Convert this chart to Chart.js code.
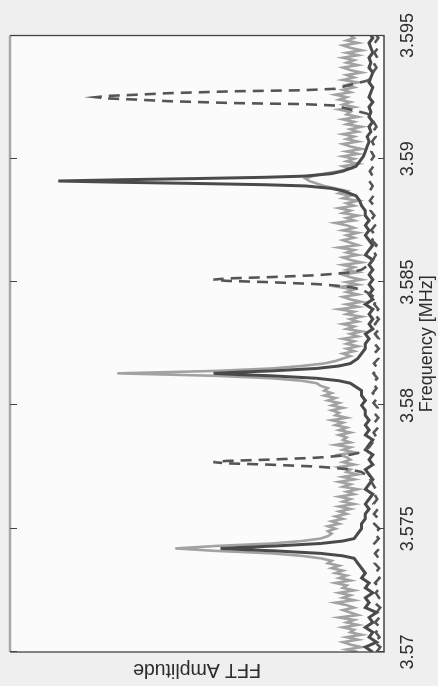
<!DOCTYPE html>
<html><head><meta charset="utf-8">
<script src="https://cdn.jsdelivr.net/npm/chart.js@4.4.1/dist/chart.umd.min.js"></script>
<style>
html,body{margin:0;padding:0;background:#efefef;width:438px;height:686px;overflow:hidden;}
#wrap{position:absolute;left:0;top:0;width:686px;height:438px;transform-origin:0 0;transform:translateY(686px) rotate(-90deg);}
canvas{display:block;}
</style></head><body>
<div id="wrap"><canvas id="c" width="686" height="438"></canvas></div>
<script>
// Frequency axis ticks
const freqTicks = [3.570, 3.575, 3.580, 3.585, 3.590, 3.595];
const freqTickLabels = ['3.57', '3.575', '3.58', '3.585', '3.59', '3.595'];

// Gray (noisy) series
const grayFreq = [
3.5700,3.5701,3.5702,3.5703,3.5704,3.5705,3.5706,3.5707,3.5708,3.5709,
3.5710,3.5711,3.5712,3.5713,3.5714,3.5715,3.5716,3.5717,3.5718,3.5719,
3.5720,3.5721,3.5722,3.5723,3.5724,3.5725,3.5726,3.5727,3.5728,3.5729,
3.5730,3.5731,3.5732,3.5733,3.5734,3.5735,3.5736,3.5737,3.5738,3.5739,
3.5740,3.5741,3.5742,3.5743,3.5744,3.5745,3.5746,3.5747,3.5748,3.5749,
3.5750,3.5751,3.5752,3.5753,3.5754,3.5755,3.5756,3.5757,3.5758,3.5759,
3.5760,3.5761,3.5762,3.5763,3.5764,3.5765,3.5766,3.5767,3.5768,3.5769,
3.5770,3.5771,3.5772,3.5773,3.5774,3.5775,3.5776,3.5777,3.5778,3.5779,
3.5780,3.5781,3.5782,3.5783,3.5784,3.5785,3.5786,3.5787,3.5788,3.5789,
3.5790,3.5791,3.5792,3.5793,3.5794,3.5795,3.5796,3.5797,3.5798,3.5799,
3.5800,3.5801,3.5802,3.5803,3.5804,3.5805,3.5806,3.5807,3.5808,3.5809,
3.5810,3.5811,3.5812,3.5813,3.5814,3.5815,3.5816,3.5817,3.5818,3.5819,
3.5820,3.5821,3.5822,3.5823,3.5824,3.5825,3.5826,3.5827,3.5828,3.5829,
3.5830,3.5831,3.5832,3.5833,3.5834,3.5835,3.5836,3.5837,3.5838,3.5839,
3.5840,3.5841,3.5842,3.5843,3.5844,3.5845,3.5846,3.5847,3.5848,3.5849,
3.5850,3.5851,3.5852,3.5853,3.5854,3.5855,3.5856,3.5857,3.5858,3.5859,
3.5860,3.5861,3.5862,3.5863,3.5864,3.5865,3.5866,3.5867,3.5868,3.5869,
3.5870,3.5871,3.5872,3.5873,3.5874,3.5875,3.5876,3.5877,3.5878,3.5879,
3.5880,3.5881,3.5882,3.5883,3.5884,3.5885,3.5886,3.5887,3.5888,3.5889,
3.5890,3.5891,3.5892,3.5893,3.5894,3.5895,3.5896,3.5897,3.5898,3.5899,
3.5900,3.5901,3.5902,3.5903,3.5904,3.5905,3.5906,3.5907,3.5908,3.5909,
3.5910,3.5911,3.5912,3.5913,3.5914,3.5915,3.5916,3.5917,3.5918,3.5919,
3.5920,3.5921,3.5922,3.5923,3.5924,3.5925,3.5926,3.5927,3.5928,3.5929,
3.5930,3.5931,3.5932,3.5933,3.5934,3.5935,3.5936,3.5937,3.5938,3.5939,
3.5940,3.5941,3.5942,3.5943,3.5944,3.5945,3.5946,3.5947,3.5948,3.5949,3.5950];
const grayAmp = [
0.07,0.10,0.06,0.09,0.11,0.07,0.10,0.06,0.09,0.08,
0.11,0.07,0.10,0.08,0.12,0.07,0.09,0.11,0.08,0.10,
0.13,0.08,0.11,0.09,0.12,0.08,0.11,0.10,0.13,0.09,
0.12,0.10,0.13,0.11,0.14,0.12,0.15,0.14,0.17,0.22,
0.30,0.45,0.558,0.45,0.30,0.22,0.17,0.15,0.14,0.15,
0.13,0.15,0.12,0.14,0.11,0.13,0.10,0.12,0.09,0.12,
0.08,0.11,0.09,0.12,0.08,0.10,0.07,0.11,0.09,0.12,
0.08,0.11,0.07,0.10,0.09,0.12,0.08,0.11,0.09,0.10,
0.12,0.08,0.11,0.09,0.13,0.09,0.11,0.10,0.12,0.09,
0.12,0.10,0.13,0.11,0.14,0.10,0.13,0.12,0.14,0.11,
0.14,0.12,0.15,0.13,0.16,0.14,0.16,0.15,0.17,0.18,
0.22,0.30,0.45,0.713,0.45,0.30,0.22,0.16,0.13,0.11,
0.09,0.11,0.08,0.10,0.07,0.10,0.08,0.11,0.07,0.09,
0.06,0.10,0.08,0.11,0.07,0.09,0.06,0.10,0.08,0.12,
0.07,0.10,0.06,0.09,0.11,0.07,0.10,0.08,0.12,0.07,
0.10,0.06,0.09,0.11,0.07,0.10,0.08,0.11,0.06,0.09,
0.11,0.07,0.10,0.08,0.12,0.07,0.09,0.11,0.08,0.10,
0.07,0.11,0.08,0.10,0.13,0.08,0.10,0.07,0.11,0.09,
0.12,0.08,0.10,0.07,0.11,0.09,0.12,0.10,0.13,0.16,
0.18,0.20,0.21,0.19,0.16,0.12,0.09,0.11,0.07,0.10,
0.08,0.11,0.07,0.10,0.06,0.09,0.11,0.07,0.10,0.08,
0.11,0.07,0.09,0.06,0.10,0.08,0.11,0.07,0.10,0.09,
0.12,0.08,0.11,0.09,0.12,0.10,0.13,0.09,0.11,0.08,
0.10,0.07,0.11,0.08,0.10,0.06,0.09,0.11,0.07,0.10,
0.08,0.11,0.07,0.10,0.06,0.09,0.11,0.07,0.10,0.08,0.09];

// Dark solid series
const darkFreq = [
3.5700,3.5702,3.5704,3.5706,3.5708,3.5710,3.5712,3.5714,3.5716,3.5718,
3.5720,3.5722,3.5724,3.5726,3.5728,3.5730,3.5732,3.5734,3.5736,3.5738,
3.5739,3.5740,3.5741,3.57415,3.5742,3.57425,3.5743,3.5744,3.5745,3.5746,
3.5748,3.5750,3.5752,3.5754,3.5756,3.5758,3.5760,3.5762,3.5764,3.5766,
3.5768,3.5770,3.5772,3.5774,3.5776,3.5778,3.5780,3.5782,3.5784,3.5786,
3.5788,3.5790,3.5792,3.5794,3.5796,3.5798,3.5800,3.5802,3.5804,3.5806,
3.5807,3.5809,3.5810,3.5811,3.5812,3.58125,3.5813,3.58135,3.5814,3.5815,
3.5816,3.5817,3.5819,3.5821,3.5823,3.5825,3.5827,3.5829,3.5831,3.5833,
3.5835,3.5837,3.5839,3.5841,3.5843,3.5845,3.5847,3.5849,3.5851,3.5853,
3.5855,3.5857,3.5859,3.5861,3.5863,3.5865,3.5867,3.5869,3.5871,3.5873,
3.5875,3.5877,3.5879,3.5881,3.5883,3.5885,3.5887,3.5888,3.5889,3.58895,
3.5890,3.58905,3.5891,3.58915,3.5892,3.58925,3.5893,3.5894,3.5895,3.5897,
3.5899,3.5901,3.5903,3.5905,3.5907,3.5909,3.5911,3.5913,3.5915,3.5917,
3.5919,3.5921,3.5923,3.5925,3.5927,3.5929,3.5931,3.5933,3.5935,3.5937,
3.5939,3.5941,3.5943,3.5945,3.5947,3.5949,3.5950];
const darkAmp = [
0.030,0.050,0.020,0.040,0.030,0.050,0.030,0.040,0.020,0.050,
0.040,0.050,0.030,0.050,0.040,0.060,0.050,0.060,0.070,0.080,
0.110,0.170,0.290,0.370,0.437,0.370,0.290,0.170,0.110,0.080,
0.070,0.060,0.060,0.050,0.050,0.040,0.050,0.040,0.030,0.050,
0.040,0.030,0.040,0.050,0.030,0.040,0.030,0.050,0.040,0.030,
0.050,0.040,0.050,0.040,0.050,0.050,0.060,0.050,0.060,0.060,
0.070,0.090,0.120,0.180,0.300,0.390,0.456,0.390,0.300,0.180,
0.120,0.090,0.070,0.060,0.050,0.050,0.040,0.050,0.030,0.040,
0.030,0.040,0.030,0.050,0.030,0.040,0.030,0.040,0.030,0.040,
0.030,0.040,0.030,0.050,0.040,0.030,0.040,0.050,0.040,0.050,
0.040,0.050,0.050,0.060,0.065,0.075,0.110,0.140,0.210,0.320,
0.500,0.710,0.871,0.710,0.500,0.320,0.210,0.140,0.110,0.075,
0.065,0.055,0.050,0.045,0.040,0.045,0.035,0.040,0.030,0.040,
0.035,0.040,0.030,0.040,0.035,0.030,0.040,0.035,0.030,0.040,
0.035,0.040,0.030,0.035,0.040,0.030,0.035];

// Dashed series
const dashFreq = [
3.5700,3.5702,3.5704,3.5706,3.5708,3.5710,3.5712,3.5714,3.5716,3.5718,
3.5720,3.5722,3.5724,3.5726,3.5728,3.5730,3.5732,3.5734,3.5736,3.5738,
3.5740,3.5742,3.5744,3.5746,3.5748,3.5750,3.5752,3.5754,3.5756,3.5758,
3.5760,3.5762,3.5764,3.5766,3.5768,3.5771,3.5773,3.5774,3.57746,3.57752,
3.5776,3.57765,3.5777,3.57775,3.5778,3.57788,3.57794,3.5780,3.5781,3.5783,
3.5785,3.5787,3.5789,3.5791,3.5793,3.5795,3.5797,3.5799,3.5801,3.5803,
3.5805,3.5807,3.5809,3.5811,3.5813,3.5815,3.5817,3.5819,3.5821,3.5823,
3.5825,3.5827,3.5829,3.5831,3.5833,3.5835,3.5837,3.5839,3.5841,3.5843,
3.5845,3.5847,3.5848,3.58486,3.58492,3.5850,3.58505,3.5851,3.58515,3.5852,
3.58528,3.58534,3.5854,3.5855,3.5857,3.5859,3.5861,3.5863,3.5865,3.5867,
3.5869,3.5871,3.5873,3.5875,3.5877,3.5879,3.5881,3.5883,3.5885,3.5887,
3.5889,3.5891,3.5893,3.5895,3.5897,3.5899,3.5901,3.5903,3.5905,3.5907,
3.5909,3.5911,3.5913,3.5915,3.5918,3.59185,3.5920,3.59216,3.59222,3.59226,
3.59234,3.5924,3.59245,3.5925,3.59255,3.5926,3.59266,3.59274,3.59278,3.59284,
3.5930,3.59315,3.5932,3.5935,3.5937,3.5939,3.5941,3.5943,3.5945,3.5947,
3.5949,3.5950];
const dashAmp = [
0.020,0.010,0.025,0.012,0.022,0.010,0.024,0.012,0.020,0.010,
0.025,0.013,0.022,0.011,0.024,0.012,0.023,0.013,0.025,0.014,
0.024,0.012,0.026,0.014,0.025,0.013,0.026,0.015,0.027,0.016,
0.028,0.018,0.026,0.022,0.030,0.040,0.060,0.090,0.130,0.180,
0.310,0.420,0.456,0.420,0.310,0.180,0.130,0.090,0.060,0.040,
0.030,0.020,0.028,0.016,0.026,0.015,0.027,0.017,0.028,0.018,
0.030,0.020,0.030,0.018,0.028,0.017,0.027,0.015,0.026,0.014,
0.025,0.014,0.024,0.013,0.024,0.014,0.025,0.015,0.026,0.020,
0.035,0.060,0.090,0.130,0.180,0.310,0.420,0.456,0.420,0.310,
0.180,0.130,0.090,0.060,0.040,0.030,0.022,0.030,0.020,0.032,
0.022,0.034,0.024,0.035,0.026,0.036,0.027,0.038,0.028,0.038,
0.030,0.040,0.030,0.038,0.028,0.036,0.027,0.034,0.025,0.032,
0.022,0.030,0.020,0.028,0.040,0.050,0.090,0.130,0.220,0.400,
0.580,0.660,0.740,0.770,0.740,0.660,0.580,0.400,0.220,0.130,
0.090,0.050,0.040,0.030,0.020,0.028,0.018,0.026,0.016,0.025,
0.015,0.020];

const toXY = (xs, ys) => xs.map((x, i) => ({ x: x, y: ys[i] }));
const FONT = "'Liberation Sans', Arial, Helvetica, sans-serif";

const framePlugin = {
  id: 'frame',
  beforeDraw(chart) {
    const { ctx, chartArea: a } = chart;
    ctx.save();
    ctx.fillStyle = '#efefef';
    ctx.fillRect(0, 0, chart.width, chart.height);
    ctx.fillStyle = '#fbfbfb';
    ctx.fillRect(a.left, a.top, a.right - a.left, a.bottom - a.top);
    ctx.restore();
  },
  afterDraw(chart) {
    const { ctx, chartArea: a, scales } = chart;
    const x = scales.x;
    ctx.save();
    ctx.strokeStyle = '#a8a8a8';
    ctx.lineWidth = 2.5;
    ctx.beginPath(); ctx.moveTo(a.left, a.top); ctx.lineTo(a.right, a.top); ctx.stroke();
    ctx.strokeStyle = '#444';
    ctx.lineWidth = 1.3;
    ctx.beginPath();
    ctx.moveTo(a.left, a.top); ctx.lineTo(a.left, a.bottom);
    ctx.lineTo(a.right, a.bottom); ctx.lineTo(a.right, a.top);
    ctx.stroke();
    ctx.lineWidth = 1;
    freqTicks.forEach(v => {
      const px = Math.round(x.getPixelForValue(v)) + 0.5;
      ctx.beginPath();
      ctx.moveTo(px, a.bottom); ctx.lineTo(px, a.bottom - 6);
      ctx.moveTo(px, a.top); ctx.lineTo(px, a.top + 7);
      ctx.stroke();
    });
    ctx.restore();
  }
};

new Chart(document.getElementById('c'), {
  type: 'line',
  data: {
    datasets: [
      { label: 'dashed', data: toXY(dashFreq, dashAmp), borderColor: '#555555', borderWidth: 2.6,
        borderDash: [11, 7], pointRadius: 0, fill: false, tension: 0 },
      { label: 'dark', data: toXY(darkFreq, darkAmp), borderColor: '#4a4a4a', borderWidth: 3,
        pointRadius: 0, fill: false, tension: 0 },
      { label: 'gray', data: toXY(grayFreq, grayAmp), borderColor: '#a2a2a2', borderWidth: 2.6,
        pointRadius: 0, fill: false, tension: 0 }
    ]
  },
  options: {
    responsive: false,
    animation: false,
    events: [],
    layout: { padding: { top: 10, right: 33, left: 0, bottom: 0 } },
    plugins: { legend: { display: false }, tooltip: { enabled: false } },
    scales: {
      x: {
        type: 'linear', min: 3.57, max: 3.595,
        afterBuildTicks: s => { s.ticks = freqTicks.map(v => ({ value: v })); },
        ticks: {
          callback: (v, i) => freqTickLabels[i],
          color: '#2e2e2e', font: { family: FONT, size: 18 },
          padding: 13, maxRotation: 0, autoSkip: false
        },
        grid: { display: false, drawTicks: false },
        border: { display: false },
        title: { display: true, text: 'Frequency [MHz]', color: '#2e2e2e',
                 font: { family: FONT, size: 18 }, padding: { top: 0, bottom: 0 } },
        afterFit: s => { s.height = 54; }
      },
      y: {
        min: 0, max: 1,
        ticks: { display: false },
        grid: { display: false, drawTicks: false },
        border: { display: false },
        title: { display: true, text: 'FFT Amplitude', color: '#2e2e2e',
                 font: { family: FONT, size: 19.5 }, padding: { top: 5, bottom: 0 } },
        afterFit: s => { s.width = 34; }
      }
    }
  },
  plugins: [framePlugin]
});
</script>
</body></html>
